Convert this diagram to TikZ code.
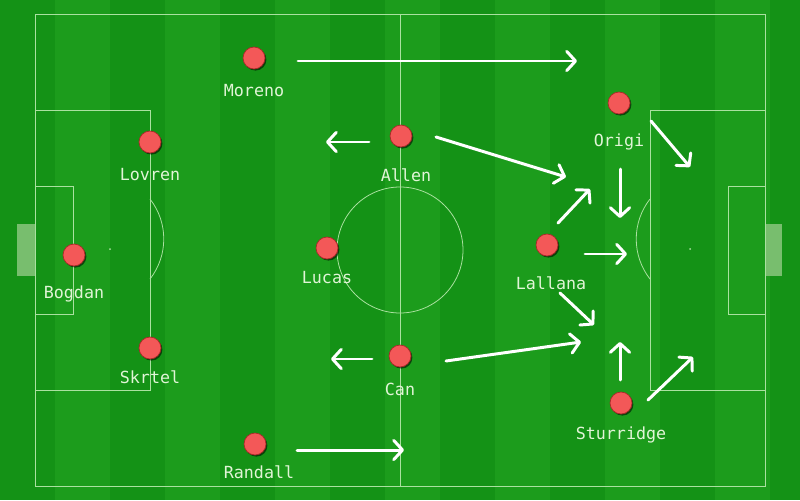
\documentclass[tikz,border=0pt]{standalone}
\usepackage{fontspec}
\newfontfamily\labelfont{DejaVu Sans Mono}
\usetikzlibrary{positioning, arrows.meta, shadows}

\definecolor{pitchA}{RGB}{20,146,22}
\definecolor{pitchB}{RGB}{28,156,28}
\definecolor{chalk}{RGB}{170,225,160}
\definecolor{ballred}{RGB}{243,88,88}
\definecolor{balledge}{RGB}{170,40,40}
\definecolor{namecol}{RGB}{225,245,215}
\definecolor{goalcol}{RGB}{120,190,110}

\begin{document}
\begin{tikzpicture}[x=0.02cm, y=-0.02cm, node distance=0.3cm,
    pitchline/.style={draw=chalk, line width=0.45pt},
    player/.style={circle, fill=ballred, draw=balledge, line width=0.4pt, minimum size=0.44cm, inner sep=0pt,
        drop shadow={shadow xshift=0.8pt, shadow yshift=-0.9pt, opacity=0.55, fill=black}},
    playername/.style={font=\labelfont\fontsize{9.5}{11}\selectfont, text=namecol, inner sep=0pt},
    run/.style={draw=white, line width=1.7pt, line cap=round, -{Straight Barb[length=5pt, width=11pt, round]}}]

            % Pitch
            \useasboundingbox (0,0) rectangle (800,500);
            \fill[pitchA] (0,0) rectangle (800,500);
            \foreach \i in {0,2,...,14}
                \fill[pitchB] (\i*55+55,0) rectangle ++(55,500);
            \fill[goalcol] (17,224) rectangle (35,276);
            \fill[goalcol] (765,224) rectangle (782,276);
            \draw[pitchline] (35,14) rectangle (765,486);
            \draw[pitchline] (400,14) -- (400,486);
            \draw[pitchline] (400,250) circle[radius=63];
            \draw[pitchline] (35,110) rectangle (150,390);
            \draw[pitchline] (35,186) rectangle (73,314);
            \draw[pitchline] (650,110) rectangle (765,390);
            \draw[pitchline] (728,186) rectangle (765,314);
            \draw[pitchline] (150,199) arc[start angle=-38, end angle=38, radius=65];
            \draw[pitchline] (650,199) arc[start angle=218, end angle=142, radius=65];
            \fill[chalk] (110,249) circle[radius=1];
            \fill[chalk] (690,249) circle[radius=1];

            % Nodes
            \node[player] (moreno) at (254,58) {};
            \node[playername, below=of moreno] (morenoname) {Moreno};
            \node[player] (lovren) at (150,142) {};
            \node[playername, below=of lovren] (lovrenname) {Lovren};
            \node[player] (bogdan) at (74,255) {};
            \node[playername, below=0.38cm of bogdan] (bogdanname) {Bogdan};
            \node[player] (skrtel) at (150,348) {};
            \node[playername, below=0.22cm of skrtel] (skrtelname) {Skrtel};
            \node[player] (randall) at (255,444) {};
            \node[playername, below=0.2cm of randall, xshift=0.08cm] (randallname) {Randall};
            \node[player] (lucas) at (327,248) {};
            \node[playername, below=0.24cm of lucas] (lucasname) {Lucas};
            \node[player] (allen) at (401,136) {};
            \node[playername, below=0.42cm of allen, xshift=0.1cm] (allenname) {Allen};
            \node[player] (can) at (400,356) {};
            \node[playername, below=0.3cm of can] (canname) {Can};
            \node[player] (lallana) at (547,245) {};
            \node[playername, below=0.4cm of lallana, xshift=0.08cm] (lallananame) {Lallana};
            \node[player] (origi) at (619,103) {};
            \node[playername, below=0.38cm of origi] (originame) {Origi};
            \node[player] (sturridge) at (621,403) {};
            \node[playername, below=0.24cm of sturridge] (sturridgename) {Sturridge};

            % Runs
            \coordinate (moreno1) at (298,61);   \coordinate (moreno2) at (577,61);
            \coordinate (allen1) at (369,142);   \coordinate (allen2) at (326,142);
            \coordinate (allen3) at (436,137);   \coordinate (allen4) at (566,177);
            \coordinate (origi1) at (651,121);   \coordinate (origi2) at (690,167);
            \coordinate (origi3) at (620,169);   \coordinate (origi4) at (620,218);
            \coordinate (lallana1) at (558,223); \coordinate (lallana2) at (590,189);
            \coordinate (lallana3) at (585,254); \coordinate (lallana4) at (627,254);
            \coordinate (lallana5) at (560,293); \coordinate (lallana6) at (594,325);
            \coordinate (can1) at (372,359);     \coordinate (can2) at (331,359);
            \coordinate (can3) at (446,361);     \coordinate (can4) at (581,342);
            \coordinate (sturridge1) at (620,380); \coordinate (sturridge2) at (620,342);
            \coordinate (sturridge3) at (648,400); \coordinate (sturridge4) at (693,357);
            \coordinate (randall1) at (297,450); \coordinate (randall2) at (404,450);

            \draw[run] (moreno1) -- (moreno2);
            \draw[run] (allen1) -- (allen2);
            \draw[run] (allen3) -- (allen4);
            \draw[run] (origi1) -- (origi2);
            \draw[run] (origi3) -- (origi4);
            \draw[run] (lallana1) -- (lallana2);
            \draw[run] (lallana3) -- (lallana4);
            \draw[run] (lallana5) -- (lallana6);
            \draw[run] (can1) -- (can2);
            \draw[run] (can3) -- (can4);
            \draw[run] (sturridge1) -- (sturridge2);
            \draw[run] (sturridge3) -- (sturridge4);
            \draw[run] (randall1) -- (randall2);
        \end{tikzpicture}
\end{document}
